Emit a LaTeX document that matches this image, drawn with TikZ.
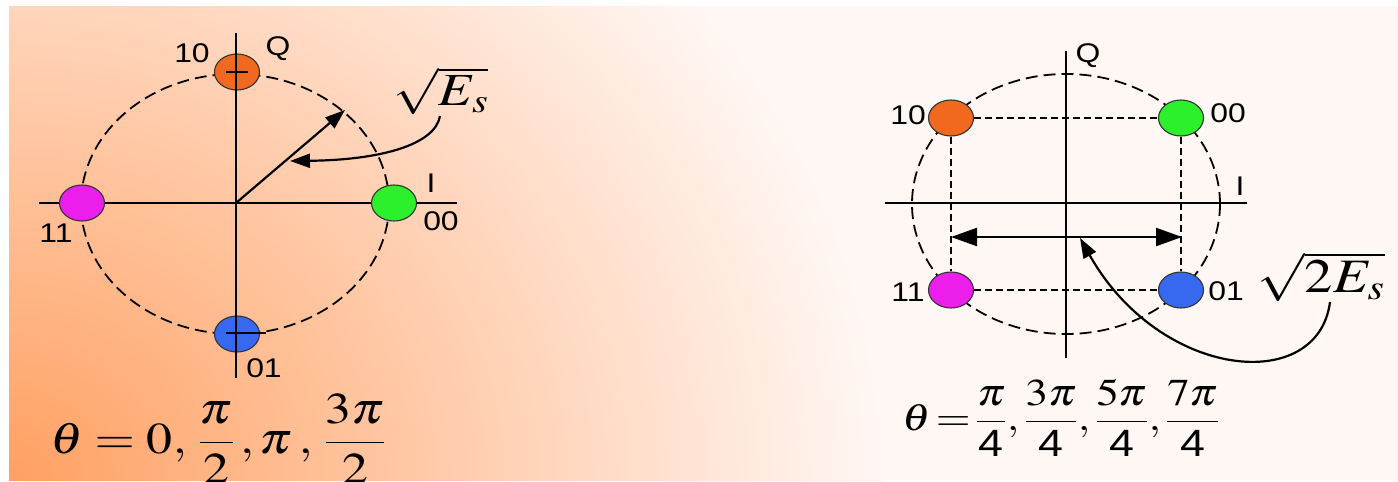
\documentclass[tikz,border=0pt]{standalone}
\usepackage{amsmath}
\usepackage{mathptmx}
\usepackage{fontspec}
\setmainfont{Liberation Serif}
\setsansfont{Liberation Sans}
\newfontfamily\bitsfont[FakeStretch=1.18]{Liberation Sans}
\usepackage{graphicx}
\usetikzlibrary{arrows.meta,shapes.geometric}

\definecolor{bgdeep}{RGB}{255,160,98}
\definecolor{bglight}{RGB}{255,247,244}
\definecolor{dotorange}{RGB}{240,105,30}
\definecolor{dotgreen}{RGB}{45,240,45}
\definecolor{dotmagenta}{RGB}{236,30,236}
\definecolor{dotblue}{RGB}{55,105,240}

\newcommand{\wide}[1]{\scalebox{1.18}[1]{#1}}
\newcommand{\four}{\text{\sffamily 4}}

\tikzset{
  axis/.style={line width=2.5pt},
  orbit/.style={line width=1.8pt, dash pattern=on 12pt off 6pt},
  gridline/.style={line width=2pt, dash pattern=on 7pt off 4pt},
  symbol/.style={ellipse, draw=black!80, line width=1.1pt,
    minimum width=45pt, minimum height=36pt, inner sep=0pt},
  bits/.style={font=\fontsize{27}{27}\bitsfont, inner sep=0pt},
  eqn/.style={font=\fontsize{#1}{#1}\selectfont, inner sep=0pt},
  pointer/.style={line width=2.2pt, -{Triangle[length=20pt,width=14pt]}},
  span/.style={line width=2.2pt,
    {Triangle[length=26pt,width=18pt]}-{Triangle[length=26pt,width=18pt]}},
}

\begin{document}
\begin{tikzpicture}[x=1pt,y=-1pt]
  \useasboundingbox (0,0) rectangle (1398,482);
  % background
  \begin{scope}
    \clip (9,6) rectangle (1398,480);
    \fill[bglight] (9,6) rectangle (1398,480);
    \shade[inner color=bgdeep, outer color=bglight]
      (-866,-295) rectangle (884,1255);
  \end{scope}

  % left: phases 0, pi/2, pi, 3pi/2
  \coordinate (O1) at (236,203);
  \draw[orbit] (235,204) ellipse [x radius=154pt, y radius=130pt];
  \draw[axis] (39,203) -- (457,203);
  \node[symbol, fill=dotorange]  (a10) at (237,72) {};
  \node[symbol, fill=dotmagenta] (a11) at (82,203) {};
  \node[symbol, fill=dotgreen]   (a00) at (394,203) {};
  \node[symbol, fill=dotblue]    (a01) at (237,334) {};
  \draw[axis] (236,33) -- (236,378);
  \draw[line width=1.6pt] (226,72) -- (248,72);
  \draw[line width=1.6pt] (226,333) -- (266,333);
  \node[bits] (la10) at (192,53) {10};
  \node[bits] (laQ)  at (278,49) {Q};
  \node[bits] (laI)  at (431,183) {I};
  \node[bits] (la00) at (441,221) {00};
  \node[bits] (la11) at (56,233) {11};
  \node[bits] (la01) at (264,368) {01};
  \coordinate (r1) at (345,110);
  \draw[pointer] (O1) -- (r1);
  \node[eqn=46] (es1) at (441,91) {\wide{$\sqrt{E_s}$}};
  \coordinate (c1) at (440,116);
  \coordinate (t1) at (290,161);
  \draw[pointer] (c1) .. controls (435,145) and (380,160) .. (t1);
  \node[eqn=44] (th1) at (218,439)
    {\wide{$\theta = 0,\,\dfrac{\pi}{2}\,,\pi\,,\,\dfrac{3\pi}{2}$}};

  % right: phases pi/4, 3pi/4, 5pi/4, 7pi/4
  \coordinate (O2) at (1066,203);
  \draw[orbit] (1066,204) ellipse [x radius=154pt, y radius=130pt];
  \node[symbol, fill=dotorange]  (b10) at (951,118) {};
  \node[symbol, fill=dotgreen]   (b00) at (1181,118) {};
  \node[symbol, fill=dotmagenta] (b11) at (951,290) {};
  \node[symbol, fill=dotblue]    (b01) at (1181,290) {};
  \draw[gridline] (b10) -- (b00);
  \draw[gridline] (b11) -- (b01);
  \draw[gridline] (b10) -- (b11);
  \draw[gridline] (b00) -- (b01);
  \draw[axis] (885,203) -- (1247,203);
  \draw[axis] (1066,51) -- (1066,358);
  \node[bits] (lb10) at (908,115) {10};
  \node[bits] (lb00) at (1228,113) {00};
  \node[bits] (lb11) at (908,292) {11};
  \node[bits] (lb01) at (1226,291) {01};
  \node[bits] (lbQ)  at (1088,56) {Q};
  \node[bits] (lbI)  at (1240,186) {I};
  \coordinate (d1) at (951,237);
  \coordinate (d2) at (1182,237);
  \draw[span] (d1) -- (d2);
  \node[eqn=48] (es2) at (1321,277) {\wide{$\sqrt{2E_s}$}};
  \coordinate (c2) at (1330,302);
  \coordinate (t2) at (1080,238);
  \draw[pointer] (c2) .. controls (1318,395) and (1160,380) .. (t2);
  \node[eqn=38] (th2) at (1061,418)
    {\wide{$\theta\!=\!\dfrac{\pi}{\four},\dfrac{3\pi}{\four},
      \dfrac{5\pi}{\four},\dfrac{7\pi}{\four}$}};
\end{tikzpicture}
\end{document}
